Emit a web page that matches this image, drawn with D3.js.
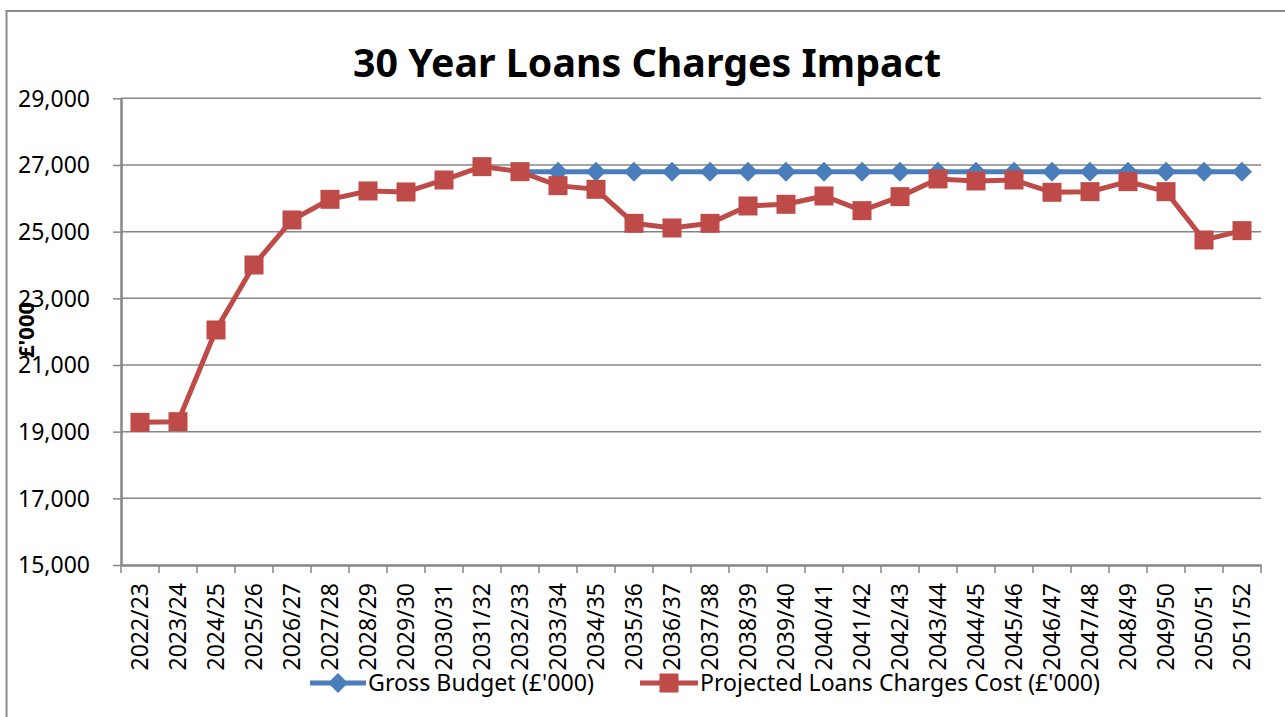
<!DOCTYPE html>
<html><head><meta charset="utf-8">
<script src="https://cdn.jsdelivr.net/npm/d3@7"></script>
<style>body{margin:0;background:#fff;} svg{display:block;} text{font-family:"Noto Sans","Open Sans",sans-serif;}</style>
</head><body><svg id="c" width="1285" height="717"></svg>
<script>
const categories = ["2022/23","2023/24","2024/25","2025/26","2026/27","2027/28","2028/29","2029/30","2030/31","2031/32","2032/33","2033/34","2034/35","2035/36","2036/37","2037/38","2038/39","2039/40","2040/41","2041/42","2042/43","2043/44","2044/45","2045/46","2046/47","2047/48","2048/49","2049/50","2050/51","2051/52"];
const grossBudget = [null,null,null,null,null,null,null,null,null,null,26800,26800,26800,26800,26800,26800,26800,26800,26800,26800,26800,26800,26800,26800,26800,26800,26800,26800,26800,26800];
const loansCharges = [19280,19300,22050,24000,25350,25970,26220,26190,26550,26950,26800,26380,26270,25250,25110,25250,25770,25820,26070,25630,26050,26580,26520,26550,26180,26200,26500,26200,24750,25030];
const yTicks = [15000,17000,19000,21000,23000,25000,27000,29000];
const seriesNames = ["Gross Budget (£'000)","Projected Loans Charges Cost (£'000)"];
const title = "30 Year Loans Charges Impact";
const yTitle = "£'000";

const svg = d3.select("#c");
const L = 121, R = 1261, T = 98.3, B = 565;
const x = d3.scaleBand().domain(categories).range([L, R]);
const y = d3.scaleLinear().domain([15000, 29000]).range([B, T]);
const gray = "#868686";

// outer border
svg.append("path").attr("d", `M6.5,717 L6.5,11 L1285,11`).attr("fill","none").attr("stroke","#8c8c8c").attr("stroke-width",2);

// title
svg.append("text").attr("x", 647).attr("y", 77).attr("text-anchor","middle")
  .attr("font-size", 40).attr("font-weight","bold").attr("textLength",588).attr("lengthAdjust","spacingAndGlyphs").text(title);

// gridlines
svg.append("g").selectAll("line").data(yTicks.slice(1)).join("line")
  .attr("x1", L).attr("x2", R).attr("y1", d=>y(d)).attr("y2", d=>y(d))
  .attr("stroke", gray).attr("stroke-width", 1.5);

// y axis
const yAxis = svg.append("g").attr("transform",`translate(${L},0)`)
  .call(d3.axisLeft(y).tickValues(yTicks).tickFormat(d3.format(",")).tickSize(8).tickSizeOuter(0));
yAxis.select(".domain").attr("stroke", gray).attr("stroke-width", 2.5);
yAxis.selectAll(".tick line").attr("stroke", gray).attr("stroke-width", 1.5);
yAxis.selectAll(".tick text").attr("font-size", 23).attr("fill","#000").attr("x",-31).attr("dy","0.34em")
  .attr("font-family","'Noto Sans',sans-serif");

// x axis
const xAxis = svg.append("g").attr("transform",`translate(0,${B})`)
  .call(d3.axisBottom(x).tickSize(0).tickSizeOuter(0));
xAxis.select(".domain").attr("stroke", gray).attr("stroke-width", 2.5);
xAxis.selectAll(".tick text").attr("font-size", 23).attr("fill","#000")
  .attr("transform","rotate(-90)").attr("text-anchor","end").attr("x",-18).attr("y",0).attr("dy","0.35em");
// boundary ticks
const bounds = categories.map(c => x(c)).concat([R]);
svg.append("g").selectAll("line").data(bounds).join("line")
  .attr("x1", d=>d).attr("x2", d=>d).attr("y1", B).attr("y2", B+8)
  .attr("stroke", gray).attr("stroke-width", 1.5);

// y title
svg.append("text").attr("transform","translate(34,330) rotate(-90)").attr("text-anchor","middle")
  .attr("font-size",22).attr("font-weight","bold").text(yTitle);

const cx = c => x(c) + x.bandwidth()/2;
const blue = "#4A7EBB", red = "#BE4B48";

// blue series
const bData = categories.map((c,i)=>({c, v: grossBudget[i]})).filter(d=>d.v!=null);
svg.append("path").datum(bData).attr("fill","none").attr("stroke",blue).attr("stroke-width",5)
  .attr("d", d3.line().x(d=>cx(d.c)).y(d=>y(d.v)));
svg.append("g").selectAll("path").data(bData).join("path")
  .attr("d","M0,-10 L10,0 L0,10 L-10,0 Z").attr("fill",blue)
  .attr("transform", d=>`translate(${cx(d.c)},${y(d.v)})`);

// red series
const rData = categories.map((c,i)=>({c, v: loansCharges[i]}));
svg.append("path").datum(rData).attr("fill","none").attr("stroke",red).attr("stroke-width",5)
  .attr("d", d3.line().x(d=>cx(d.c)).y(d=>y(d.v)));
svg.append("g").selectAll("rect").data(rData).join("rect")
  .attr("x", d=>cx(d.c)-9.5).attr("y", d=>y(d.v)-9.5).attr("width",19).attr("height",19).attr("fill",red);

// legend
const lg = svg.append("g");
lg.append("line").attr("x1",310).attr("x2",366).attr("y1",683).attr("y2",683).attr("stroke",blue).attr("stroke-width",5);
lg.append("path").attr("d","M0,-10 L10,0 L0,10 L-10,0 Z").attr("fill",blue).attr("transform","translate(338,683)");
lg.append("text").attr("x",368).attr("y",691).attr("font-size",23).attr("textLength",226).attr("lengthAdjust","spacingAndGlyphs").text(seriesNames[0]);
lg.append("line").attr("x1",640).attr("x2",698).attr("y1",683).attr("y2",683).attr("stroke",red).attr("stroke-width",5);
lg.append("rect").attr("x",659.5).attr("y",673.5).attr("width",19).attr("height",19).attr("fill",red);
lg.append("text").attr("x",700).attr("y",691).attr("font-size",23).attr("textLength",400).attr("lengthAdjust","spacingAndGlyphs").text(seriesNames[1]);
</script></body></html>
